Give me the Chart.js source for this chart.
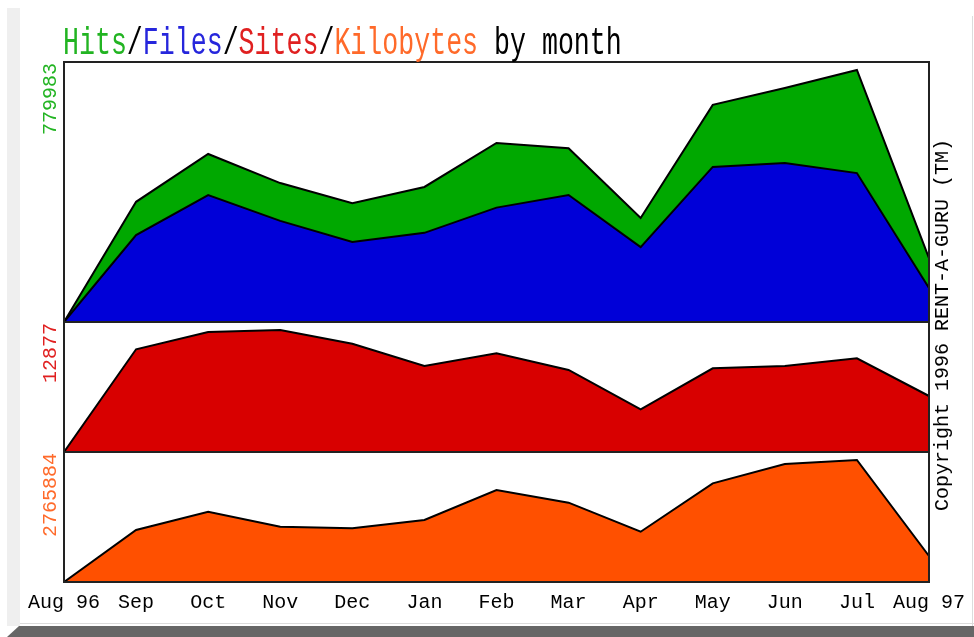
<!DOCTYPE html>
<html lang="en">

<head>
    <meta charset="UTF-8">
    <title>Hits/Files/Sites/Kilobytes by month</title>
    <script src="https://cdn.jsdelivr.net/npm/chart.js"></script>
    <style>
        body { margin: 0; background: #fff; }
        #wrap { position: relative; width: 974px; height: 637px; overflow: hidden; }
        #chart { position: absolute; left: 0; top: 0; }
        .strip-left { position: absolute; left: 7px; top: 8px; width: 13px; height: 618px; background: #efefef; }
        .strip-right { position: absolute; left: 972px; top: 16px; width: 1px; height: 610px; background: #dcdcdc; }
        .strip-line { position: absolute; left: 20px; right: 0; top: 623px; height: 1px; background: #dcdcdc; }
        .strip-bottom { position: absolute; left: 7px; right: 0; top: 626px; height: 11px; background: #666;
            clip-path: polygon(12px 0, 100% 0, 100% 100%, 0 100%); }
        .title { position: absolute; left: 63px; top: 25px; font: 38px/38px "Liberation Mono", monospace;
            white-space: pre; transform: scaleX(0.7); transform-origin: left top; color: #000; }
    </style>
</head>

<body>
    <div id="wrap">
        <div class="strip-left"></div>
        <div class="strip-right"></div>
        <div class="strip-line"></div>
        <div class="strip-bottom"></div>
        <canvas id="chart" width="974" height="637"></canvas>
        <div class="title"><span style="color:#22b422">Hits</span>/<span style="color:#2626dc">Files</span>/<span style="color:#e02020">Sites</span>/<span style="color:#ff6a2a">Kilobytes</span> by month</div>
    </div>

    <script>
        // months Aug 96 .. Aug 97
        const months = ['Aug 96', 'Sep', 'Oct', 'Nov', 'Dec', 'Jan', 'Feb', 'Mar', 'Apr', 'May', 'Jun', 'Jul', 'Aug 97'];
        const hits = [0, 372000, 520000, 430000, 368000, 418000, 554000, 538000, 322000, 672000, 724000, 779983, 198000];
        const files = [0, 269000, 393000, 313000, 248000, 276000, 354000, 393000, 232000, 480000, 492000, 461000, 105000];
        const sites = [0, 10840, 12670, 12877, 11420, 9080, 10420, 8660, 4510, 8830, 9080, 9890, 5910];
        const kbytes = [0, 1179000, 1594000, 1254000, 1217000, 1406000, 2086000, 1798000, 1140000, 2237000, 2675000, 2765884, 589000];
        // max labels shown on the left of each panel
        const hitsMax = 779983;
        const sitesMax = 12877;
        const kbytesMax = 2765884;

        const monoFont = '"Liberation Mono", monospace';

        // frames round the three panels, rotated max labels, copyright
        const panelDecor = {
            id: 'panelDecor',
            afterDatasetsDraw(chart) {
                const { ctx, chartArea } = chart;
                const panels = [
                    { id: 'yHits', text: String(hitsMax), color: '#22b422' },
                    { id: 'ySites', text: String(sitesMax), color: '#e02020' },
                    { id: 'yKb', text: String(kbytesMax), color: '#ff6a2a' }
                ];
                ctx.save();
                ctx.strokeStyle = '#222';
                ctx.lineWidth = 2;
                panels.forEach(p => {
                    const s = chart.scales[p.id];
                    ctx.strokeRect(chartArea.left, s.top, chartArea.right - chartArea.left, s.bottom - s.top);
                });
                ctx.font = '20px ' + monoFont;
                ctx.textBaseline = 'middle';
                panels.forEach(p => {
                    const s = chart.scales[p.id];
                    ctx.save();
                    ctx.translate(chartArea.left - 13, s.top + 1);
                    ctx.rotate(-Math.PI / 2);
                    ctx.textAlign = 'right';
                    ctx.fillStyle = p.color;
                    ctx.fillText(p.text, 0, 0);
                    ctx.restore();
                });
                ctx.translate(chartArea.right + 14, (chartArea.top + chartArea.bottom) / 2 + 3);
                ctx.rotate(-Math.PI / 2);
                ctx.textAlign = 'center';
                ctx.fillStyle = '#000';
                ctx.fillText('Copyright 1996 RENT-A-GURU (TM)', 0, 0);
                ctx.restore();
            }
        };

        const area = (data, color, axis) => ({
            data: data,
            yAxisID: axis,
            fill: 'origin',
            backgroundColor: color,
            borderColor: '#000',
            borderWidth: 2,
            pointRadius: 0,
            tension: 0
        });

        const hiddenY = (weight, stackWeight, max) => ({
            type: 'linear',
            display: false,
            stack: 'panels',
            stackWeight: stackWeight,
            weight: weight,
            min: 0,
            max: max
        });

        new Chart(document.getElementById('chart'), {
            type: 'line',
            data: {
                labels: months,
                datasets: [
                    area(files, '#0000d8', 'yHits'),
                    area(hits, '#00a800', 'yHits'),
                    area(sites, '#d80000', 'ySites'),
                    area(kbytes, '#ff5000', 'yKb')
                ]
            },
            options: {
                responsive: false,
                animation: false,
                devicePixelRatio: 1,
                layout: { padding: { left: 64, top: 62, right: 45, bottom: 0 } },
                plugins: { legend: { display: false }, tooltip: { enabled: false } },
                scales: {
                    x: {
                        grid: { display: false, drawTicks: false },
                        border: { display: false },
                        ticks: {
                            autoSkip: false, maxRotation: 0, padding: 9,
                            color: '#000', font: { family: monoFont, size: 20 }
                        },
                        afterFit: s => { s.height = 55; }
                    },
                    // headroom so each max sits 8px under the panel top
                    yHits: hiddenY(3, 2, hitsMax * 260 / 252),
                    ySites: hiddenY(2, 1, sitesMax * 130 / 122),
                    yKb: hiddenY(1, 1, kbytesMax * 130 / 122)
                }
            },
            plugins: [panelDecor]
        });
    </script>
</body>
</html>
